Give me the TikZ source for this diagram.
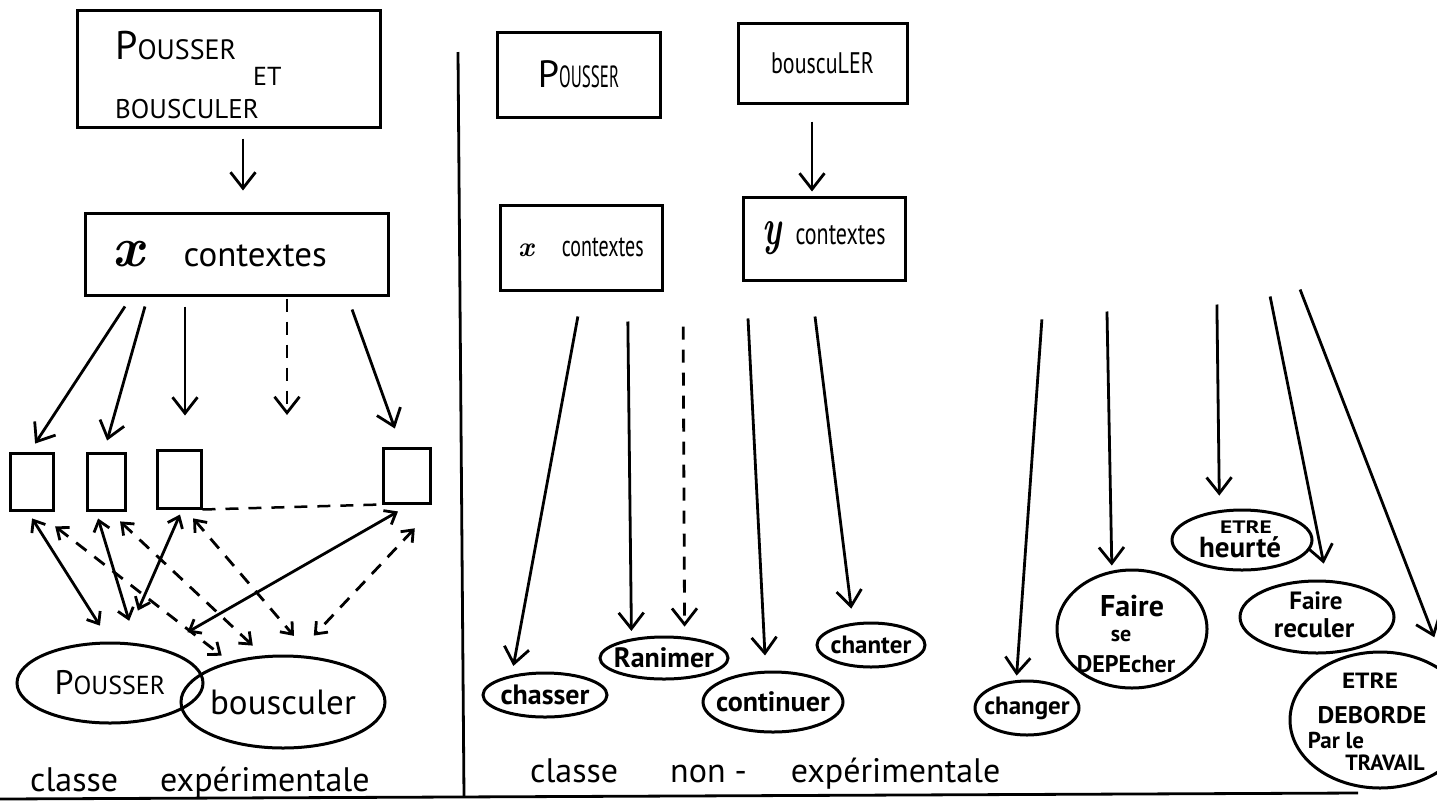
\documentclass[tikz,border=0pt]{standalone}
\usepackage{graphicx}
\usepackage{fontspec}
\setmainfont{PT Sans}
\newfontfamily\lmfam{Latin Modern Roman}
\usetikzlibrary{arrows.meta,shapes.geometric}
\newcommand\fsz[1]{\fontsize{#1}{#1}\selectfont}
\newcommand\vtall[2]{\scalebox{1}[#1]{#2}}
\newcommand\hwide[2]{\scalebox{#1}[1]{#2}}
\begin{document}
\begin{tikzpicture}[x=1pt,y=-1pt,
  bx/.style={draw, line width=3pt, inner sep=0pt, rectangle},
  ov/.style={draw, ellipse, line width=3pt, inner sep=-8pt, font=\bfseries},
  lbl/.style={inner sep=0pt, anchor=base west},
  lblc/.style={inner sep=0pt, anchor=base, font=\bfseries},
  ar/.style={line width=2.8pt, -{Straight Barb[length=16pt,width=25pt]}},
  dar/.style={line width=2.8pt, {Straight Barb[length=10pt,width=16pt]}-{Straight Barb[length=10pt,width=16pt]}},
  dsh/.style={dash pattern=on 13pt off 10pt},
  frame/.style={line width=2.8pt}]
\useasboundingbox (0,0) rectangle (1437,804);
% frame lines
\draw[frame] (458,52) -- (464,797);
\draw[frame] (0,799) -- (1358,793);
% ---------- left part ----------
\node[bx, minimum width=303pt, minimum height=117pt] (pb) at (228.5,68.5) {};
\node[lbl] (pbA) at (115,59) {\fsz{40}P\fsz{28}OUSSER};
\node[lbl] (pbB) at (253,85) {\fsz{26}ET};
\node[lbl] (pbC) at (115,118) {\fsz{27}BOUSCULER};
\node[bx, minimum width=303pt, minimum height=82pt] (lctx) at (236.5,254) {{\fsz{56}\lmfam\bfseries\itshape x}\hspace{40pt}{\fsz{35}contextes}\hspace*{34pt}};
\node[bx, minimum width=43pt, minimum height=57pt] (s1) at (31.5,481.5) {};
\node[bx, minimum width=38pt, minimum height=57pt] (s2) at (106,481.5) {};
\node[bx, minimum width=44pt, minimum height=58pt] (s3) at (179,479) {};
\node[bx, minimum width=47pt, minimum height=55pt] (s4) at (406.5,475.5) {};
\node[ov, font=\mdseries, minimum width=186pt, minimum height=80pt] (ep) at (110,683) {\fsz{34}P\fsz{26}OUSSER};
\node[ov, font=\mdseries, minimum width=204pt, minimum height=92pt] (eb) at (283,702) {\fsz{35}bousculer};
\node[lbl] (cl1) at (30,791) {\fsz{34}classe\hspace{42pt}expérimentale};
\coordinate (c4) at (287,415);
\draw[ar, shorten <=10pt, shorten >=21pt] ([xshift=14.5pt]pb.south) -- ([xshift=6.5pt]lctx.north);
\draw[ar, shorten <=11.9pt, shorten >=9.5pt] ([xshift=-105pt]lctx.south) -- ([xshift=-1.6pt]s1.north);
\draw[ar, shorten <=10.4pt, shorten >=11.4pt] ([xshift=-88.7pt]lctx.south) -- ([xshift=-2pt]s2.north);
\draw[ar, shorten <=10pt, shorten >=33pt] ([xshift=-51.5pt]lctx.south) -- ([xshift=6pt]s3.north);
\draw[ar, dsh, shorten <=2pt] ([xshift=50.5pt]lctx.south) -- (c4);
\draw[ar, shorten <=13.8pt, shorten >=19.1pt] ([xshift=110.9pt]lctx.south) -- ([xshift=-5.2pt]s4.north);
\draw[dar, shorten <=8.2pt, shorten >=18.8pt] ([xshift=-3.8pt]s1.south) -- (ep.90);
\draw[dar, shorten <=7.3pt, shorten >=23.3pt] ([xshift=-10pt]s2.south) -- (ep.57.7);
\draw[dar, shorten <=5.5pt, shorten >=34.3pt] ([xshift=3.2pt]s3.south) -- (ep.71.3);
\draw[dar, shorten <=14pt, shorten >=31.4pt] ([xshift=3.6pt]s4.south) -- (ep.35.7);
\draw[dar, dsh, shorten <=24.2pt, shorten >=9.4pt] ([xshift=4.5pt]s1.south) -- (eb.143.9);
\draw[dar, dsh, shorten <=14.5pt, shorten >=14.3pt] ([xshift=3.5pt]s2.south) -- (eb.113.5);
\draw[dar, dsh, shorten <=11.7pt, shorten >=27pt] ([xshift=6.5pt]s3.south) -- (eb.58.4);
\draw[dar, dsh, shorten <=32.7pt, shorten >=26.5pt] ([xshift=30.7pt]s4.south) -- (eb.75.3);
\draw[dsh, line width=2.5pt] (s3.south east) -- (s4.south west);
% ---------- right part ----------
\node[bx, minimum width=163pt, minimum height=85pt] (rp) at (578.5,74.5) {{\fsz{38}P}\vtall{1.8}{\fsz{17}OUSSER}};
\node[bx, minimum width=169pt, minimum height=80pt] (rb) at (822.5,63) {\vtall{1.35}{\fsz{22}bouscuLER}};
\node[bx, minimum width=162pt, minimum height=85pt] (rctx) at (581,247.5) {{\fsz{28}\lmfam\bfseries\itshape x}\hspace{28pt}\vtall{1.5}{\fsz{20}contextes}};
\node[bx, minimum width=162pt, minimum height=83pt] (yctx) at (824,238.5) {\vtall{1.5}{\fsz{34}\lmfam\bfseries\itshape y}\hspace{14pt}\vtall{1.4}{\fsz{22}contextes}};
\node[ov, minimum width=124pt, minimum height=44pt] (chs) at (545,695) {\fsz{28}chasser};
\node[ov, minimum width=128pt, minimum height=42pt] (ran) at (664,658) {\fsz{28}Ranimer};
\node[ov, minimum width=140pt, minimum height=60pt] (con) at (773,702) {\fsz{28}continuer};
\node[ov, minimum width=108pt, minimum height=44pt] (cha) at (871,645) {\fsz{25}chanter};
\node[ov, minimum width=104pt, minimum height=54pt] (chg) at (1027,708) {\fsz{25}changer};
\node[ov, minimum width=150pt, minimum height=118pt] (dep) at (1132,629) {};
\node[lblc] (depA) at (1132,616) {\fsz{30}Faire};
\node[lblc] (depB) at (1121,641) {\fsz{22}se};
\node[lblc] (depC) at (1126,672) {\fsz{24}DEPEcher};
\node[ov, minimum width=140pt, minimum height=60pt] (heu) at (1242,540) {};
\node[lblc] (heuA) at (1246,533) {\hwide{1.3}{\fsz{18}ETRE}};
\node[lblc] (heuB) at (1240,557) {\fsz{29}heurté};
\node[ov, minimum width=154pt, minimum height=72pt] (rec) at (1317,617) {};
\node[lblc] (recA) at (1316,609) {\fsz{25}Faire};
\node[lblc] (recB) at (1314,637) {\fsz{27}reculer};
\node[ov, minimum width=180pt, minimum height=136pt] (deb) at (1380,720) {};
\node[lblc] (debA) at (1370,688) {\hwide{1.15}{\fsz{22}ETRE}};
\node[lblc] (debB) at (1372,723) {\hwide{1.08}{\fsz{24}DEBORDE}};
\node[lblc] (debC) at (1336,748) {\fsz{23}Par le};
\node[lblc] (debD) at (1385,770) {\fsz{22}TRAVAIL};
\node[lbl] (cl2) at (530,782) {\fsz{34}classe\hspace{52pt}non -\hspace{44pt}expérimentale};
\draw[ar, shorten <=25.4pt, shorten >=9.2pt] ([xshift=1.5pt]rctx.south) -- (chs.149.1);
\draw[ar, shorten <=30pt, shorten >=7.5pt] ([xshift=46.5pt]rctx.south) -- (ran.149.1);
\draw[ar, dsh, shorten <=35pt, shorten >=10pt] ([xshift=102pt]rctx.south) -- (ran.46.5);
\draw[ar, shorten <=27pt, shorten >=15.2pt] ([xshift=165.65pt]rctx.south) -- (con.103.6);
\draw[ar, shorten <=25.2pt, shorten >=14.2pt] ([xshift=230.9pt]rctx.south) -- (cha.129.5);
\draw[ar, shorten <=17pt, shorten >=4pt] ([xshift=-10.5pt]rb.south) -- ([xshift=-12pt]yctx.north);
\draw[ar, shorten <=38pt, shorten >=4.5pt] ([xshift=220.6pt]yctx.south) -- (chg.111.1);
\draw[ar, shorten <=30pt, shorten >=5.1pt] ([xshift=282.4pt]yctx.south) -- (dep.109.3);
\draw[ar, shorten <=23pt, shorten >=14.5pt] ([xshift=392.6pt]yctx.south) -- (heu.127.4);
\draw[ar, shorten <=15.3pt, shorten >=16.5pt] ([xshift=443.1pt]yctx.south) -- (rec.75.6);
\draw[ar, shorten <=8.6pt, shorten >=39.2pt] ([xshift=473pt]yctx.south) -- (deb.34.1);
\end{tikzpicture}
\end{document}
